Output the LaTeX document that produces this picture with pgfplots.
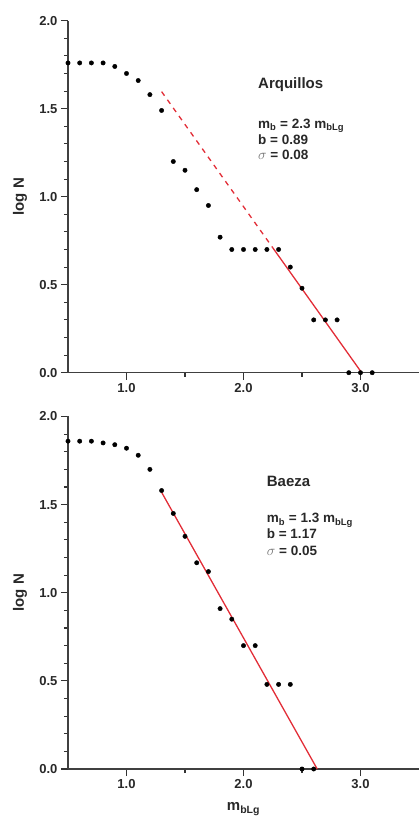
\documentclass[border=0pt]{standalone}
\usepackage{fontspec}
\setmainfont{Liberation Sans}
\usepackage{pgfplots}
\pgfplotsset{compat=1.18}
\definecolor{fitred}{RGB}{226,45,55}
\definecolor{txt}{RGB}{40,40,40}

\pgfplotsset{
  panel/.style={
    scale only axis, width=351pt, height=352pt,
    xmin=0.5, xmax=3.5, ymin=0, ymax=2,
    clip=false,
    axis x line=bottom, axis y line=left,
    axis line style={-, line width=1.2pt, black!75},
    xtick={1,2,3}, ytick={0,0.5,1,1.5,2},
    minor xtick={1.5,2.5},
    minor ytick={0.1,0.2,0.3,0.4,0.6,0.7,0.8,0.9,1.1,1.2,1.3,1.4,1.6,1.7,1.8,1.9},
    xtick align=outside, ytick align=outside,
    every tick/.style={line width=1.1pt, black!80},
    major tick length=7pt, minor tick length=4pt,
    tick label style={font=\fontsize{13}{13}\selectfont\bfseries, text=txt},
    /pgf/number format/assume math mode=true,
    /pgf/number format/.cd, fixed, fixed zerofill, precision=1, /pgfplots/.cd,
    ylabel={log N},
    ylabel style={font=\fontsize{15}{15}\selectfont\bfseries, text=txt,
      at={([xshift=-48pt]axis description cs:0,0.5)}, anchor=center},
  },
  pts/.style={only marks, mark=*, mark size=2.2pt, black},
  fitline/.style={fitred, line width=1.3pt},
}
\tikzset{
  note/.style={anchor=base west, inner sep=0pt, text=txt,
    font=\fontsize{13.5}{13.5}\selectfont\bfseries},
}

\begin{document}
\begin{tikzpicture}
% Arquillos
\begin{axis}[panel, at={(0,396.3pt)}]
\addplot[fitline, dash pattern=on 5pt off 5pt] coordinates {(1.30,1.597) (2.25,0.710)};
\addplot[fitline] coordinates {(2.25,0.710) (3.01,0)};
\addplot[pts] coordinates {
  (0.5,1.76) (0.6,1.76) (0.7,1.76) (0.8,1.76) (0.9,1.74) (1.0,1.70)
  (1.1,1.66) (1.2,1.58) (1.3,1.49) (1.4,1.20) (1.5,1.15) (1.6,1.04)
  (1.7,0.95) (1.8,0.77) (1.9,0.70) (2.0,0.70) (2.1,0.70) (2.2,0.70)
  (2.3,0.70) (2.4,0.60) (2.5,0.48) (2.6,0.30) (2.7,0.30) (2.8,0.30)
  (2.9,0) (3.0,0) (3.1,0)
};
\node[note, font=\fontsize{15}{15}\selectfont\bfseries] at (axis cs:2.124,1.615) {Arquillos};
\node[note] at (axis cs:2.124,1.390) {m\textsubscript{b} = 2.3 m\textsubscript{bLg}};
\node[note] at (axis cs:2.124,1.298) {b = 0.89};
\node[note] at (axis cs:2.124,1.213) {\textcolor{black!55}{\mdseries$\sigma$} = 0.08};
\end{axis}
% Baeza
\begin{axis}[panel, at={(0,0)}, height=352.5pt,
  xlabel={m\textsubscript{bLg}},
  xlabel style={font=\fontsize{15}{15}\selectfont\bfseries, text=txt,
    at={([yshift=-41.5pt]axis description cs:0.5,0)}, anchor=base}]
\addplot[fitline] coordinates {(1.30,1.57) (2.63,0)};
\addplot[pts] coordinates {
  (0.5,1.86) (0.6,1.86) (0.7,1.86) (0.8,1.85) (0.9,1.84) (1.0,1.82)
  (1.1,1.78) (1.2,1.70) (1.3,1.58) (1.4,1.45) (1.5,1.32) (1.6,1.17)
  (1.7,1.12) (1.8,0.91) (1.9,0.85) (2.0,0.70) (2.1,0.70) (2.2,0.48)
  (2.3,0.48) (2.4,0.48) (2.5,0) (2.6,0)
};
\node[note, font=\fontsize{15}{15}\selectfont\bfseries] at (axis cs:2.198,1.603) {Baeza};
\node[note] at (axis cs:2.198,1.396) {m\textsubscript{b} = 1.3 m\textsubscript{bLg}};
\node[note] at (axis cs:2.198,1.305) {b = 1.17};
\node[note] at (axis cs:2.198,1.214) {\textcolor{black!55}{\mdseries$\sigma$} = 0.05};
\end{axis}
\pgfresetboundingbox
\path (-68pt,-49pt) rectangle (351pt,769pt);
\end{tikzpicture}
\end{document}
